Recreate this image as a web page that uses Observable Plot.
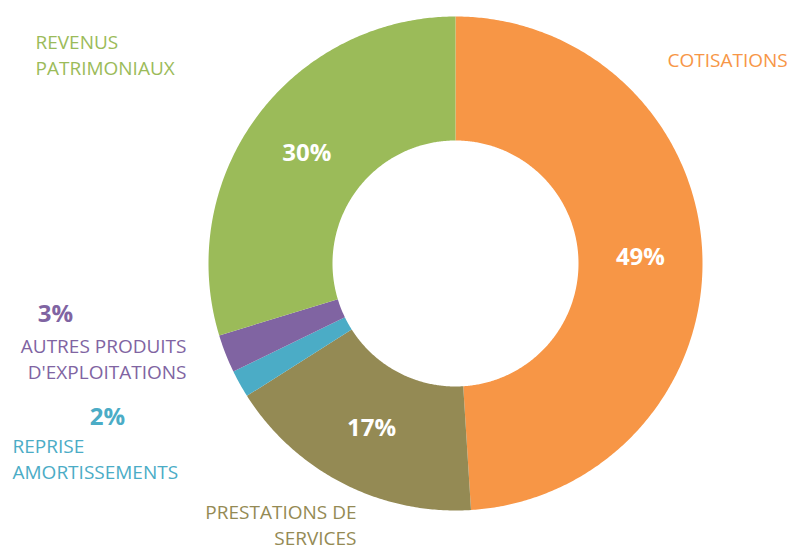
<!DOCTYPE html>
<html><head><meta charset="utf-8">
<script src="https://cdn.jsdelivr.net/npm/d3@7"></script>
<script src="https://cdn.jsdelivr.net/npm/@observablehq/plot@0.6"></script>
<style>
body{margin:0;background:#fff;}
#chart svg{display:block;background:#fff;font-family:"Open Sans",sans-serif;}
</style>
</head><body><div id="chart"></div>
<script>
// ---- data ----
const keys = ["cot", "pre", "rep", "aut", "rev"];
const categories = ["COTISATIONS", "PRESTATIONS DE\nSERVICES", "REPRISE\nAMORTISSEMENTS", "AUTRES PRODUITS\nD'EXPLOITATIONS", "REVENUS\nPATRIMONIAUX"];
const values = [49.0, 17.0, 1.8, 2.5, 29.7];
const percentLabels = ["49%", "17%", "2%", "3%", "30%"];
const colors = ["#F79646", "#948A54", "#4BACC6", "#8064A2", "#9BBB59"];

// ---- layout ----
const W = 789, H = 550, CX = 455, CY = 263, R_OUT = 247, R_IN = 123;
const labelLayout = {
  cot: {x: 667, y: 66, anchor: "start"},
  rev: {x: 35, y: 74, anchor: "start"},
  aut: {x: 186, y: 378, anchor: "end"},
  rep: {x: 12, y: 478, anchor: "start"},
  pre: {x: 356, y: 544, anchor: "end"}
};
const outsidePctLayout = {
  aut: {x: 55, y: 321},
  rep: {x: 107, y: 424}
};

const rows = keys.map((k, i) => ({key: k, label: categories[i], value: values[i], pct: percentLabels[i]}));
const arcs = d3.pie().sort(null).value(d => d.value).startAngle(0).endAngle(2 * Math.PI)(rows);

const pt = (a, r) => ({x: Math.sin(a) * r, y: -Math.cos(a) * r});
const slicePts = [];
for (const a of arcs) {
  const n = Math.max(2, Math.ceil((a.endAngle - a.startAngle) * 180 / Math.PI * 2));
  for (let i = 0; i <= n; i++) {
    const t = a.startAngle + (a.endAngle - a.startAngle) * i / n;
    slicePts.push({key: a.data.key, ...pt(t, R_OUT)});
  }
  for (let i = n; i >= 0; i--) {
    const t = a.startAngle + (a.endAngle - a.startAngle) * i / n;
    slicePts.push({key: a.data.key, ...pt(t, R_IN)});
  }
}

const inside = arcs.filter(a => !outsidePctLayout[a.data.key]).map(a => {
  const m = (a.startAngle + a.endAngle) / 2;
  return {key: a.data.key, text: a.data.pct, ...pt(m, (R_OUT + R_IN) / 2)};
});
const outsidePct = rows.filter(d => outsidePctLayout[d.key]).map(d => ({
  key: d.key, text: d.pct, x: outsidePctLayout[d.key].x - CX, y: outsidePctLayout[d.key].y - CY
}));
const catLabels = rows.map(d => ({
  key: d.key, text: d.label, anchor: labelLayout[d.key].anchor,
  x: labelLayout[d.key].x - CX, y: labelLayout[d.key].y - CY
}));

const chart = Plot.plot({
  width: W, height: H, margin: 0,
  x: {domain: [-CX, W - CX], axis: null},
  y: {domain: [-CY, H - CY], reverse: true, axis: null},
  color: {domain: keys, range: colors},
  marks: [
    Plot.line(slicePts, {x: "x", y: "y", z: "key", fill: "key", stroke: "none", curve: "linear-closed"}),
    Plot.text(inside, {x: "x", y: "y", text: "text", fill: "white", fontSize: 24, fontWeight: "bold"}),
    Plot.text(outsidePct, {x: "x", y: "y", text: "text", fill: "key", fontSize: 24, fontWeight: "bold", lineAnchor: "bottom"}),
    Plot.text(catLabels.filter(d => d.anchor === "start"), {x: "x", y: "y", text: "text", fill: "key", fontSize: 19, lineAnchor: "bottom", textAnchor: "start", lineHeight: 1.36}),
    Plot.text(catLabels.filter(d => d.anchor === "end"), {x: "x", y: "y", text: "text", fill: "key", fontSize: 19, lineAnchor: "bottom", textAnchor: "end", lineHeight: 1.36})
  ]
});
document.getElementById("chart").appendChild(chart);
</script>
</body></html>
